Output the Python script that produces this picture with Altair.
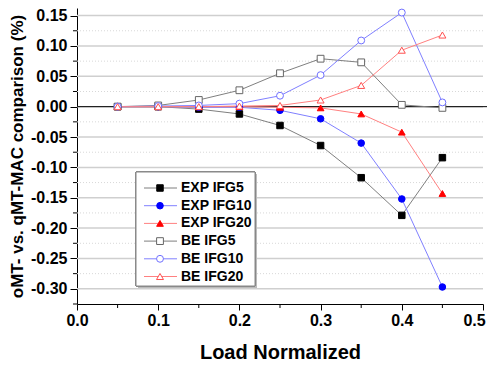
import altair as alt
import pandas as pd

# ---- data ----
load = [0.05, 0.10, 0.15, 0.20, 0.25, 0.30, 0.35, 0.40, 0.45]
exp_ifg5 = [0.000, 0.000, -0.004, -0.012, -0.031, -0.064, -0.117, -0.179, -0.084]
exp_ifg10 = [0.000, 0.000, -0.001, -0.001, -0.006, -0.020, -0.060, -0.152, -0.297]
exp_ifg20 = [0.000, 0.000, 0.000, 0.000, -0.001, -0.002, -0.012, -0.042, -0.143]
be_ifg5 = [0.000, 0.002, 0.011, 0.027, 0.055, 0.079, 0.073, 0.003, -0.002]
be_ifg10 = [0.000, 0.001, 0.002, 0.005, 0.018, 0.052, 0.109, 0.155, 0.007]
be_ifg20 = [0.000, 0.000, 0.000, 0.001, 0.002, 0.011, 0.035, 0.093, 0.118]

names = ["EXP IFG5", "EXP IFG10", "EXP IFG20", "BE IFG5", "BE IFG10", "BE IFG20"]
series_values = [exp_ifg5, exp_ifg10, exp_ifg20, be_ifg5, be_ifg10, be_ifg20]

x_ticks = [0.0, 0.1, 0.2, 0.3, 0.4, 0.5]
x_minor = [0.05, 0.15, 0.25, 0.35, 0.45]
y_ticks = [-0.30, -0.25, -0.20, -0.15, -0.10, -0.05, 0.00, 0.05, 0.10, 0.15]
y_minor = [-0.325, -0.275, -0.225, -0.175, -0.125, -0.075, -0.025, 0.025, 0.075, 0.125]

# ---- styles ----
line_colors = ["#7f7f7f", "#8080ff", "#ff8080", "#7f7f7f", "#8080ff", "#ff8080"]
fill_colors = ["#000000", "#0000ff", "#ff0000", "#ffffff", "#ffffff", "#ffffff"]
stroke_colors = ["#000000", "#0000ff", "#ff0000", "#666666", "#7070ff", "#ff5050"]
shapes = ["square", "circle", "triangle-up", "square", "circle", "triangle-up"]
sizes = [42, 49, 64, 42, 49, 64]
FONT = "Liberation Sans"

rows = []
for n, vals in zip(names, series_values):
    for xv, yv in zip(load, vals):
        rows.append({"x": xv, "value": yv, "series": n})
df = pd.DataFrame(rows)

W, H = 406, 296
xscale = alt.Scale(domain=[0, 0.5], nice=False, zero=False)
yscale = alt.Scale(domain=[-0.325, 0.1625], nice=False, zero=False)
color_sc = alt.Scale(domain=names, range=line_colors)
fill_sc = alt.Scale(domain=names, range=fill_colors)
stroke_sc = alt.Scale(domain=names, range=stroke_colors)
shape_sc = alt.Scale(domain=names, range=shapes)
size_sc = alt.Scale(domain=names, range=sizes)

xaxis = alt.Axis(values=x_ticks, format=".1f", title="Load Normalized", grid=False,
                 tickSize=6, labelPadding=2, titlePadding=14, titleFontSize=20,
                 labelFontSize=16, labelFlush=False, labelOverlap=False,
                 labelOffset={"condition": {"test": "datum.value >= 0.5", "value": -9}, "value": 0})
yaxis = alt.Axis(values=y_ticks, labelExpr="replace(format(datum.value, '.2f'), '\u2212', '-')",
                 title="oMT- vs. qMT-MAC comparison (%)", grid=False, tickSize=7,
                 labelPadding=3, titlePadding=4, titleFontSize=17, labelFontSize=16,
                 labelFlush=False, labelOverlap=False)


def X(field):
    return alt.X(field, scale=xscale, axis=xaxis)


def Y(field):
    return alt.Y(field, scale=yscale, axis=yaxis)


grid_major = alt.Chart(pd.DataFrame({"g": y_ticks})).mark_rule(
    color="#cfcfcf", strokeWidth=1.5).encode(
    y=Y("g:Q"), x=alt.value(0), x2=alt.value(W))
grid_minor = alt.Chart(pd.DataFrame({"g": y_minor[1:]})).mark_rule(
    color="#d8d8d8", strokeWidth=1, strokeDash=[1, 2]).encode(
    y=Y("g:Q"), x=alt.value(0), x2=alt.value(W))
ytick_minor = alt.Chart(pd.DataFrame({"g": y_minor})).mark_rule(
    color="black", strokeWidth=1).encode(
    y=Y("g:Q"), x=alt.value(-4), x2=alt.value(0))
xtick_minor = alt.Chart(pd.DataFrame({"g": x_minor})).mark_rule(
    color="black", strokeWidth=1).encode(
    x=X("g:Q"), y=alt.value(H), y2=alt.value(H + 4))
zero_line = alt.Chart(pd.DataFrame({"z": [0.0]})).mark_rule(
    color="black", strokeWidth=1, clip=False).encode(
    y=Y("z:Q"), x=alt.value(0), x2=alt.value(W + 14))

lines = alt.Chart(df).mark_line(strokeWidth=1).encode(
    x=X("x:Q"), y=Y("value:Q"),
    color=alt.Color("series:N", scale=color_sc, legend=None),
)
points = alt.Chart(df).mark_point(filled=True, opacity=1, strokeWidth=1).encode(
    x=X("x:Q"), y=Y("value:Q"),
    fill=alt.Fill("series:N", scale=fill_sc, legend=None),
    stroke=alt.Stroke("series:N", scale=stroke_sc, legend=None),
    shape=alt.Shape("series:N", scale=shape_sc, legend=None),
    size=alt.Size("series:O", scale=size_sc, legend=None),
)

main = alt.layer(grid_major, grid_minor, zero_line, lines, points, ytick_minor, xtick_minor)

# ---- hand-built legend (like the original's boxed legend) ----
leg_df = pd.DataFrame({"series": names})
leg_y = alt.Scale(type="point", domain=names, range=[180, 268.5], padding=0)
shadow = alt.Chart(leg_df).mark_rect(fill="#bbbbbb").encode(
    x=alt.value(61), x2=alt.value(180), y=alt.value(166), y2=alt.value(280))
box = alt.Chart(leg_df).mark_rect(fill="white", stroke="#888888", strokeWidth=1).encode(
    x=alt.value(59), x2=alt.value(178), y=alt.value(164), y2=alt.value(278))
leg_line = alt.Chart(leg_df).mark_rule(strokeWidth=1).encode(
    y=alt.Y("series:N", scale=leg_y, axis=None, sort=names),
    x=alt.value(67), x2=alt.value(100),
    color=alt.Color("series:N", scale=color_sc, legend=None))
leg_pt = alt.Chart(leg_df).mark_point(filled=True, opacity=1, strokeWidth=1).encode(
    y=alt.Y("series:N", scale=leg_y, axis=None, sort=names),
    x=alt.value(83),
    fill=alt.Fill("series:N", scale=fill_sc, legend=None),
    stroke=alt.Stroke("series:N", scale=stroke_sc, legend=None),
    shape=alt.Shape("series:N", scale=shape_sc, legend=None),
    size=alt.Size("series:O", scale=size_sc, legend=None))
leg_txt = alt.Chart(leg_df).mark_text(align="left", baseline="middle", font=FONT,
                                      fontSize=14, fontWeight="bold", color="black").encode(
    y=alt.Y("series:N", scale=leg_y, axis=None, sort=names),
    x=alt.value(104), text="series:N")
legend = alt.layer(shadow, box, leg_line, leg_pt, leg_txt)

chart = alt.layer(main, legend).resolve_scale(y="independent").properties(
    width=W, height=H,
    autosize=alt.AutoSizeParams(type="none"),
    padding={"left": 69, "top": 0, "right": 4, "bottom": 59},
    background="white",
).configure_view(stroke=None).configure_axis(
    labelFont=FONT, titleFont=FONT, labelFontWeight="bold", titleFontWeight="bold",
    labelColor="black", titleColor="black", domainColor="black", tickColor="black",
    domainWidth=1, tickWidth=1,
)

chart.save("out.html", embed_options={"renderer": "svg", "actions": False})
